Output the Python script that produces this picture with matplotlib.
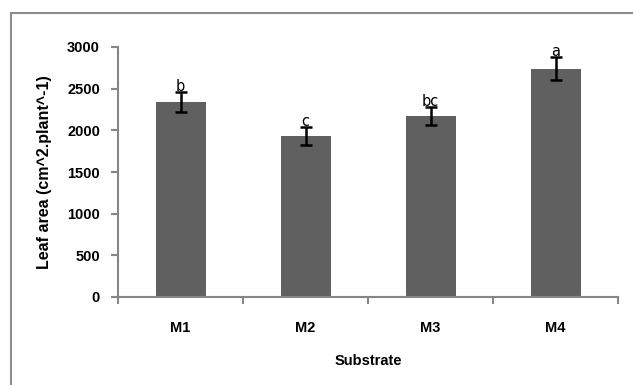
import matplotlib
matplotlib.use("Agg")
import matplotlib.pyplot as plt
from matplotlib.patches import Rectangle

categories = ["M1", "M2", "M3", "M4"]
values = [2345, 1935, 2170, 2740]
errors = [120, 105, 110, 140]
letters = ["b", "c", "bc", "a"]
yticks = [0, 500, 1000, 1500, 2000, 2500, 3000]

plt.rcParams['font.family'] = ['Liberation Sans', 'DejaVu Sans']

fig = plt.figure(figsize=(6.33, 3.85), dpi=100)
fig.patch.set_facecolor('white')
# outer chart border (only top and left visible)
fig.patches.append(Rectangle((11/633, -0.2), 1.5, 1.2 - 13/385, transform=fig.transFigure,
                             fill=False, edgecolor='#8c8c8c', linewidth=1.5))

ax = fig.add_axes([118/633, 1 - 297/385, 500/633, 250/385])
x = list(range(len(categories)))
ax.bar(x, values, width=0.4, color='#606060', zorder=2)
ax.errorbar(x, values, yerr=errors, fmt='none', ecolor='black', elinewidth=1.8,
            capsize=4, capthick=1.8, zorder=3)
for xi, v, e, l in zip(x, values, errors, letters):
    ax.annotate(l, (xi, v + e), xytext=(0, -1.5), textcoords='offset points',
                ha='center', va='bottom', fontsize=10.5, family=['DejaVu Sans'])

ax.set_xlim(-0.5, len(categories) - 0.5)
ax.set_ylim(0, 3000)
ax.set_yticks(yticks)
ax.set_yticklabels([str(t) for t in yticks], fontsize=10.5, fontweight='bold')
ax.set_xticks(x)
ax.set_xticklabels(categories, fontsize=10.5, fontweight='bold')
ax.tick_params(axis='x', length=0, pad=17)
ax.set_xticks([i - 0.5 for i in range(len(categories) + 1)], minor=True)
ax.tick_params(axis='x', which='minor', length=5, color='#868686', width=1.5)
ax.tick_params(axis='y', length=5, color='#868686', width=1.5, pad=8)

for s in ['top', 'right']:
    ax.spines[s].set_visible(False)
for s in ['left', 'bottom']:
    ax.spines[s].set_color('#868686')
    ax.spines[s].set_linewidth(1.5)

ax.set_ylabel("Leaf area (cm^2.plant^-1)", fontsize=11.5, fontweight='bold', labelpad=11)
ax.set_xlabel("Substrate", fontsize=10.5, fontweight='bold', labelpad=14)

fig.savefig("out.png", dpi=100)
